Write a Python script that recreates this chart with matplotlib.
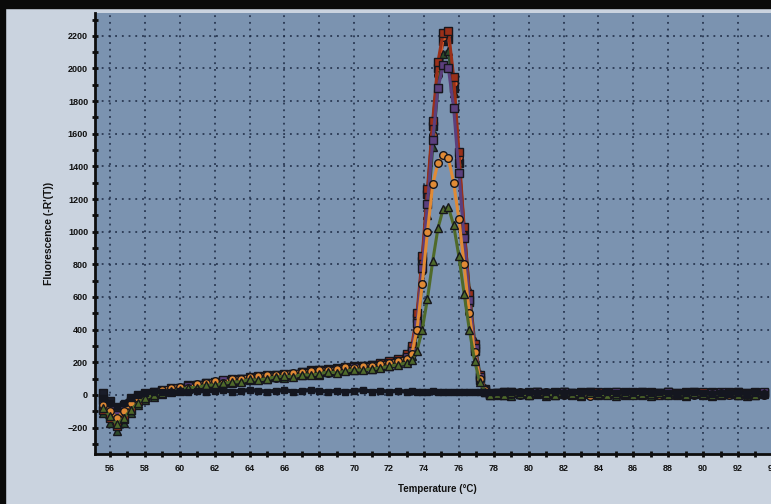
import matplotlib
matplotlib.use("Agg")
import matplotlib.pyplot as plt
from matplotlib.patches import Rectangle
from matplotlib.ticker import MultipleLocator

# melt curve temperatures (deg C)
temps = [55.6, 56.0, 56.4, 56.8, 57.2, 57.6,
         58.0, 58.5, 59.0, 59.5, 60.0, 60.5, 61.0, 61.5, 62.0, 62.5, 63.0, 63.5, 64.0, 64.5, 65.0,
         65.5, 66.0, 66.5, 67.0, 67.5, 68.0, 68.5, 69.0, 69.5, 70.0, 70.5, 71.0, 71.5, 72.0, 72.5, 73.0,
         73.3, 73.6, 73.9, 74.2, 74.5, 74.8, 75.1, 75.4, 75.7, 76.0, 76.3, 76.6, 76.9, 77.2, 77.5, 77.8,
         78.2, 78.6, 79.0, 79.5,
         80.0, 80.5, 81.0, 81.5, 82.0, 82.5, 83.0, 83.5, 84.0, 84.5, 85.0, 85.5, 86.0, 86.5,
         87.0, 87.5, 88.0, 88.5, 89.0, 89.5, 90.0, 90.5, 91.0, 91.5, 92.0, 92.5, 93.0, 93.5]

well_a = [-40, -90, -150, -120, -70, -30,
          -10, 5, 15, 20, 35, 40, 55, 60, 75, 70, 90, 95, 100, 95, 110,
          105, 120, 115, 125, 130, 140, 135, 150, 145, 160, 165, 170, 175, 190, 200, 225,
          265, 430, 760, 1160, 1590, 1960, 2190, 2210, 1910, 1460, 1010, 610, 300, 110, 30, 5,
          0, 10, 5, 15,
          10, 5, 15, 10, 0, 10, 5, 15, 10, 5, 0, 10, 5, 10,
          5, 0, 10, 5, 10, 0, 5, 10, 0, 5, 10, 0, 5, 0]

well_b = [10, -40, -90, -60, -20, 0,
          10, 20, 30, 25, 45, 60, 55, 75, 80, 85, 80, 100, 110, 115, 105,
          125, 115, 130, 140, 135, 150, 155, 145, 165, 160, 175, 185, 180, 200, 215, 240,
          280, 470, 820, 1230, 1650, 2000, 2170, 2180, 1880, 1420, 980, 570, 270, 90, 20, 0,
          10, 20, 15, 10,
          20, 15, 10, 20, 15, 10, 20, 15, 10, 20, 15, 10, 15, 20,
          15, 10, 20, 10, 15, 20, 10, 15, 10, 20, 15, 10, 15, 10]

well_c = [-110, -170, -220, -170, -110, -60,
          -30, -10, 5, 15, 25, 35, 50, 50, 65, 75, 70, 85, 90, 100, 100,
          110, 105, 120, 125, 130, 125, 140, 145, 150, 150, 160, 160, 170, 180, 195, 210,
          240, 380, 700, 1100, 1520, 1880, 2090, 2110, 1850, 1430, 1020, 640, 330, 130, 40, 10,
          0, 5, -5, 5,
          0, 5, -5, 0, 5, 0, -5, 5, 0, 5, -5, 0, 5, 0,
          -5, 0, 5, 0, -5, 5, 0, -5, 0, 5, 0, -5, 0, 5]

well_d = [-60, -100, -140, -100, -50, -20,
          0, 20, 30, 45, 50, 40, 65, 70, 85, 75, 95, 100, 110, 115, 120,
          120, 130, 135, 140, 145, 155, 150, 160, 170, 165, 175, 180, 190, 195, 210, 220,
          250, 400, 680, 1000, 1290, 1420, 1470, 1450, 1300, 1080, 800, 500, 260, 100, 30, 5,
          0, 10, 5, 0,
          5, 10, 0, 5, 10, 0, 5, -5, 10, 0, 5, 10, 0, 5,
          10, 0, 5, 0, 10, 5, 0, 5, 10, 0, 5, 0, 10, 5]

well_e = [-80, -130, -180, -140, -90, -50,
          -20, 0, 10, 25, 30, 45, 45, 60, 60, 70, 80, 80, 95, 90, 100,
          110, 115, 110, 125, 120, 130, 140, 135, 145, 155, 150, 160, 165, 175, 185, 195,
          215, 270, 400, 590, 820, 1020, 1140, 1150, 1040, 850, 620, 400, 210, 80, 20, 0,
          5, 0, 10, 5,
          0, 10, 5, 0, 10, 5, 0, 10, 5, 0, 5, 10, 0, 5,
          5, 10, 0, 5, 0, 10, 5, 0, 5, 10, 0, 5, 0, 10]

well_f = [-30, -80, -120, -90, -40, -10,
          5, 15, 25, 40, 35, 55, 60, 65, 70, 90, 85, 95, 105, 110, 115,
          115, 125, 125, 135, 145, 140, 155, 160, 155, 170, 170, 180, 185, 195, 205, 230,
          270, 440, 780, 1170, 1560, 1880, 2020, 2000, 1760, 1360, 960, 580, 290, 110, 30, 5,
          5, 15, 10, 5,
          10, 15, 5, 10, 15, 5, 10, 15, 5, 10, 15, 5, 10, 15,
          5, 10, 15, 5, 10, 15, 5, 10, 15, 5, 10, 5, 10, 15]

well_g = [-90, -140, -190, -150, -90, -40,
          -15, 10, 20, 30, 40, 50, 60, 70, 70, 85, 95, 100, 100, 110, 120,
          125, 130, 130, 140, 150, 150, 160, 165, 170, 175, 180, 185, 195, 205, 220, 250,
          300, 500, 850, 1260, 1680, 2040, 2220, 2230, 1950, 1490, 1030, 620, 310, 120, 35, 5,
          10, 0, 15, 10,
          5, 15, 10, 5, 15, 10, 5, 10, 15, 5, 10, 15, 5, 10,
          10, 5, 15, 10, 5, 10, 15, 5, 10, 5, 15, 10, 5, 10]

# no template control
ntc = [-20, -50, -70, -50, -20, 0,
       10, 15, 20, 15, 25, 20, 25, 20, 25, 30, 20, 25, 30, 25, 20,
       25, 30, 20, 25, 30, 25, 20, 25, 20, 25, 30, 20, 25, 20, 25, 20,
       25, 20, 15, 20, 25, 20, 15, 20, 15, 20, 15, 20, 15, 20, 15, 20,
       15, 20, 15, 10,
       15, 10, 15, 20, 10, 15, 10, 15, 10, 15, 10, 15, 10, 15,
       10, 15, 10, 5, 10, 15, 10, 5, 10, 5, 10, 5, 10, 5]

wells = [well_b, well_a, well_c, well_g, well_f, well_d, well_e]
colors = ["#1a1d2a", "#d9582a", "#2c4a2a", "#9a3019", "#5b3f7d", "#e08a35", "#4f6a2a"]
markers = ["s", "o", "^", "s", "s", "o", "^"]

fig = plt.figure(figsize=(7.71, 5.04), dpi=100, facecolor="#cad3df")
ax = fig.add_axes([95 / 771, 1 - 454 / 504, (780 - 95) / 771, (454 - 13) / 504])
ax.set_facecolor("#7b93b0")

for vals, col, mk in zip(wells, colors, markers):
    ax.plot(temps, vals, color=col, lw=2.2, marker=mk, ms=5.5,
            mfc=col, mec="#16161c", mew=1.0, zorder=3)
ax.plot(temps, ntc, color="#14161f", lw=3.0, marker="s", ms=4.5,
        mfc="#14161f", mec="#14161f", zorder=4)

ax.set_xlim(55.14, 94.41)
ax.set_ylim(-362, 2340)
ax.xaxis.set_major_locator(MultipleLocator(2))
ax.xaxis.set_minor_locator(MultipleLocator(1))
ax.yaxis.set_major_locator(MultipleLocator(200))
ax.yaxis.set_minor_locator(MultipleLocator(100))

ax.grid(True, which="major", color="#1b2842", lw=1.1, linestyle=(0, (1.2, 3.2)))
ax.set_axisbelow(True)

for side in ["top", "right"]:
    ax.spines[side].set_visible(False)
for side in ["left", "bottom"]:
    ax.spines[side].set_linewidth(2)
    ax.spines[side].set_color("#0d0d0d")

ax.tick_params(which="both", direction="inout", length=4, width=2, color="#0d0d0d")
ax.tick_params(axis="y", pad=3)
ax.tick_params(axis="x", pad=5)
for lab in ax.get_xticklabels() + ax.get_yticklabels():
    lab.set_fontfamily("Liberation Sans")
    lab.set_fontweight("bold")
    lab.set_fontsize(6.5)
    lab.set_color("#111111")

ax.set_xlabel("Temperature (°C)", fontsize=7, fontweight="bold",
              family="Liberation Sans", color="#111111", labelpad=8)
ax.set_ylabel("Fluorescence (-R'(T))", fontsize=7.5, fontweight="bold",
              family="Liberation Sans", color="#111111", labelpad=10)

# dark photo frame at top and left
fig.add_artist(Rectangle((0, 1 - 8 / 504), 1, 8 / 504, transform=fig.transFigure,
                         color="#0a0a0a", zorder=10))
fig.add_artist(Rectangle((0, 0), 5 / 771, 1, transform=fig.transFigure,
                         color="#0a0a0a", zorder=10))

fig.savefig("out.png", dpi=100, facecolor=fig.get_facecolor())
